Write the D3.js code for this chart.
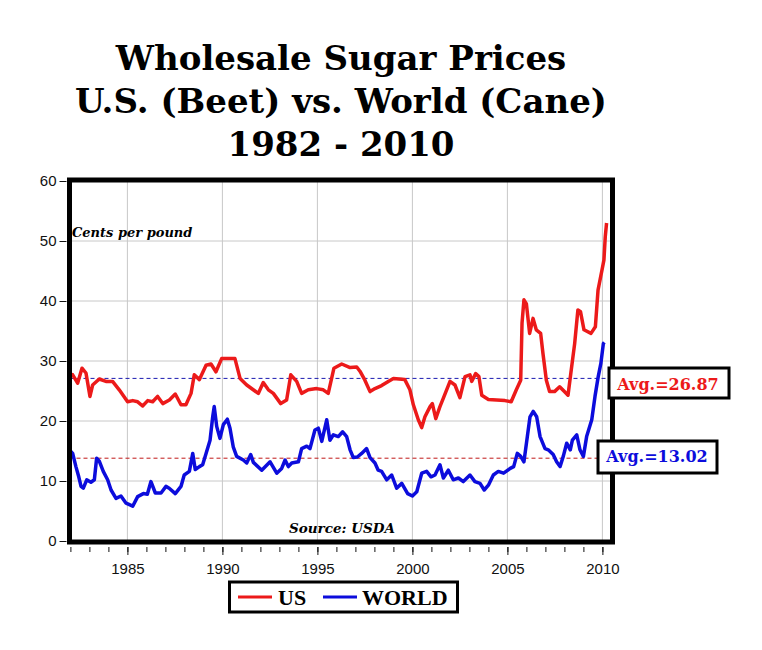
<!DOCTYPE html>
<html><head><meta charset="utf-8">
<script src="https://cdn.jsdelivr.net/npm/d3@7/dist/d3.min.js"></script>
<style>body{margin:0;background:#fff}svg{display:block}</style>
</head><body><svg id="c" width="762" height="650"></svg>
<script>
const titleLines = ["Wholesale Sugar Prices", "U.S. (Beet) vs. World (Cane)", "1982 - 2010"];
const yTicks = [0, 10, 20, 30, 40, 50, 60];
const xLabelYears = [1985, 1990, 1995, 2000, 2005, 2010];
const seriesNames = ["US", "WORLD"];
const avgLabels = ["Avg.=26.87", "Avg.=13.02"];
const avgLineLevels = [27.1, 13.8];

const usYears = [1982.0,1982.12,1982.38,1982.61,1982.82,1983.03,1983.17,1983.52,1983.87,1984.22,1984.57,1985.01,1985.28,1985.54,1985.8,1986.07,1986.33,1986.59,1986.86,1987.21,1987.52,1987.82,1988.08,1988.35,1988.52,1988.79,1989.14,1989.4,1989.66,1989.96,1990.66,1990.93,1991.28,1991.89,1992.15,1992.42,1992.68,1993.07,1993.38,1993.6,1993.91,1994.17,1994.52,1994.96,1995.31,1995.57,1995.87,1996.28,1996.72,1997.07,1997.24,1997.5,1997.77,1998.03,1998.38,1998.73,1999.0,1999.6,1999.87,2000.05,2000.31,2000.49,2000.66,2000.93,2001.05,2001.23,2001.45,2001.63,2001.98,2002.24,2002.5,2002.77,2003.03,2003.12,2003.33,2003.5,2003.65,2004.0,2004.87,2005.2,2005.47,2005.7,2005.77,2005.87,2006.0,2006.17,2006.35,2006.52,2006.75,2006.87,2007.05,2007.22,2007.48,2007.75,2008.0,2008.19,2008.36,2008.54,2008.71,2008.85,2009.03,2009.4,2009.63,2009.77,2009.98,2010.08,2010.15,2010.22];
const usValues = [27.8,27.7,26.3,28.8,28.0,24.1,26.0,27.0,26.6,26.6,25.2,23.2,23.4,23.2,22.5,23.4,23.2,24.1,22.9,23.5,24.5,22.7,22.7,24.6,27.7,26.9,29.3,29.5,28.2,30.4,30.4,27.1,26.0,24.6,26.4,25.2,24.6,22.9,23.5,27.7,26.6,24.6,25.2,25.4,25.2,24.6,28.8,29.5,28.9,29.0,28.3,26.8,24.9,25.4,25.9,26.6,27.1,26.9,25.2,22.7,20.2,18.9,20.7,22.4,22.9,20.4,22.4,23.8,26.6,26.0,23.9,27.4,27.7,26.6,27.9,27.4,24.3,23.6,23.4,23.2,25.2,26.8,36.3,40.2,39.5,34.6,37.1,35.2,34.6,31.3,26.8,24.9,24.9,25.7,24.9,24.3,28.5,32.9,38.5,38.2,35.2,34.6,35.7,41.8,45.2,46.8,50.7,53.0];

const worldYears = [1982.0,1982.12,1982.29,1982.44,1982.56,1982.68,1982.86,1983.08,1983.26,1983.38,1983.52,1983.73,1983.96,1984.14,1984.4,1984.66,1984.93,1985.28,1985.54,1985.84,1986.05,1986.24,1986.47,1986.77,1987.03,1987.2,1987.52,1987.82,1987.99,1988.26,1988.44,1988.57,1988.79,1988.96,1989.14,1989.35,1989.49,1989.57,1989.7,1989.87,1990.05,1990.26,1990.4,1990.57,1990.75,1991.1,1991.28,1991.49,1991.63,1992.07,1992.51,1992.86,1993.12,1993.3,1993.47,1993.65,1994.0,1994.17,1994.44,1994.61,1994.87,1995.05,1995.23,1995.49,1995.66,1995.84,1996.1,1996.33,1996.54,1996.72,1996.89,1997.1,1997.33,1997.59,1997.77,1998.03,1998.2,1998.38,1998.65,1998.91,1999.17,1999.44,1999.75,2000.0,2000.23,2000.49,2000.75,2000.98,2001.19,2001.45,2001.63,2001.89,2002.15,2002.42,2002.68,2003.03,2003.29,2003.56,2003.78,2004.0,2004.26,2004.52,2004.8,2005.15,2005.33,2005.52,2005.7,2005.87,2006.05,2006.19,2006.36,2006.54,2006.72,2006.98,2007.15,2007.41,2007.59,2007.77,2007.94,2008.12,2008.31,2008.42,2008.65,2008.82,2009.0,2009.17,2009.44,2009.61,2009.78,2009.92,2010.05,2010.1];
const worldValues = [15.0,14.6,12.4,10.7,9.1,8.8,10.2,9.8,10.2,13.8,13.3,11.6,10.2,8.5,7.1,7.5,6.3,5.8,7.4,7.9,7.8,9.9,8.0,8.0,9.1,8.8,7.9,9.1,11.0,11.6,14.6,11.9,12.4,12.7,14.6,16.8,20.7,22.4,19.1,17.1,19.4,20.3,18.8,15.7,14.1,13.5,13.0,14.4,13.1,11.8,13.2,11.3,12.1,13.5,12.4,13.0,13.2,15.4,15.8,15.4,18.5,18.8,16.6,20.2,16.8,17.7,17.4,18.2,17.4,15.2,13.9,14.0,14.6,15.4,13.9,13.0,11.8,11.6,10.2,11.0,8.8,9.6,7.9,7.5,8.2,11.3,11.6,10.7,11.0,12.7,10.5,11.8,10.2,10.5,9.9,11.0,9.9,9.6,8.5,9.3,11.0,11.6,11.3,12.1,12.4,14.6,14.1,13.2,17.4,20.7,21.6,20.7,17.4,15.4,15.2,14.4,13.2,12.4,14.1,16.3,15.2,16.8,17.7,15.2,14.1,17.4,20.2,24.1,27.4,29.6,32.9,33.1];

const RED = "#ec1a1a", BLUE = "#0c0cdc";
const svg = d3.select("#c");
svg.append("rect").attr("width", 762).attr("height", 650).attr("fill", "#fff");

const x = d3.scaleLinear().domain([1982, 2010]).range([70.4, 602.4]);
const y = d3.scaleLinear().domain([0, 60]).range([541, 181]);
const L = 69.5, R = 612.5, T = 180, B = 542;

// titles
const titleY = [70, 113, 156];
svg.selectAll("text.title").data(titleLines).enter().append("text")
  .attr("class", "title").attr("x", 341).attr("y", (d, i) => titleY[i])
  .attr("text-anchor", "middle").attr("font-family", "DejaVu Serif")
  .attr("font-weight", "bold").attr("font-size", 34).attr("fill", "#000").text(d => d);

// grid
const g = svg.append("g");
g.selectAll("line.vg").data(xLabelYears).enter().append("line")
  .attr("x1", d => x(d)).attr("x2", d => x(d)).attr("y1", T).attr("y2", B)
  .attr("stroke", "#c8c8c8").attr("stroke-width", 1);
g.selectAll("line.hg").data(yTicks.slice(1, -1)).enter().append("line")
  .attr("x1", L).attr("x2", R).attr("y1", d => y(d)).attr("y2", d => y(d))
  .attr("stroke", "#c8c8c8").attr("stroke-width", 1);

// average dashed lines
g.append("line").attr("x1", L).attr("x2", R).attr("y1", y(avgLineLevels[0])).attr("y2", y(avgLineLevels[0]))
  .attr("stroke", "#1a1ab0").attr("stroke-width", 1).attr("stroke-dasharray", "4,3");
g.append("line").attr("x1", L).attr("x2", R).attr("y1", y(avgLineLevels[1])).attr("y2", y(avgLineLevels[1]))
  .attr("stroke", "#c01818").attr("stroke-width", 1).attr("stroke-dasharray", "4,3");

// series
const line = d3.line().x(d => x(d[0])).y(d => y(d[1]));
svg.append("path").datum(d3.zip(worldYears, worldValues)).attr("d", line)
  .attr("fill", "none").attr("stroke", BLUE).attr("stroke-width", 3.5).attr("stroke-linejoin", "round");
svg.append("path").datum(d3.zip(usYears, usValues)).attr("d", line)
  .attr("fill", "none").attr("stroke", RED).attr("stroke-width", 3.5).attr("stroke-linejoin", "round");

// frame
svg.append("rect").attr("x", L).attr("y", T).attr("width", R - L).attr("height", B - T)
  .attr("fill", "none").attr("stroke", "#000").attr("stroke-width", 5);

// y axis
const ya = svg.append("g").attr("transform", `translate(${L - 3},0)`)
  .call(d3.axisLeft(y).tickValues(yTicks).tickSize(7).tickPadding(3));
ya.select(".domain").remove();
ya.selectAll("text").attr("font-family", "Liberation Sans").attr("font-size", 15).attr("fill", "#111");
ya.selectAll("line").attr("stroke", "#111");

// x axis minor + major
const years = d3.range(1982, 2011);
const xm = svg.append("g").attr("transform", `translate(0,${B + 5})`)
  .call(d3.axisBottom(x).tickValues(years).tickSize(5).tickFormat(""));
xm.select(".domain").remove();
xm.selectAll("line").attr("stroke", "#111");
const xa = svg.append("g").attr("transform", `translate(0,${B + 5})`)
  .call(d3.axisBottom(x).tickValues(xLabelYears).tickSize(8).tickPadding(8).tickFormat(d3.format("d")));
xa.select(".domain").remove();
xa.selectAll("line").attr("stroke", "#111");
xa.selectAll("text").attr("font-family", "Liberation Sans").attr("font-size", 15).attr("fill", "#111");

// annotations
svg.append("text").attr("x", 72).attr("y", 237).attr("font-family", "DejaVu Serif")
  .attr("font-weight", "bold").attr("font-style", "italic").attr("font-size", 13).text("Cents per pound");
svg.append("text").attr("x", 342).attr("y", 533).attr("text-anchor", "middle").attr("font-family", "DejaVu Serif")
  .attr("font-weight", "bold").attr("font-style", "italic").attr("font-size", 13.5).text("Source: USDA");

// avg boxes
const boxes = [
  {x: 609, y: 368, w: 120, h: 30, tx: 668, ty: 390, color: RED},
  {x: 598, y: 441, w: 119, h: 32, tx: 657, ty: 462, color: BLUE}
];
boxes.forEach((b, i) => {
  svg.append("rect").attr("x", b.x).attr("y", b.y).attr("width", b.w).attr("height", b.h)
    .attr("fill", "#fff").attr("stroke", "#000").attr("stroke-width", 3);
  svg.append("text").attr("x", b.tx).attr("y", b.ty).attr("text-anchor", "middle")
    .attr("font-family", "DejaVu Serif").attr("font-weight", "bold").attr("font-size", 16)
    .attr("fill", b.color).text(avgLabels[i]);
});

// legend
const lg = svg.append("g");
lg.append("rect").attr("x", 229.5).attr("y", 582).attr("width", 228).attr("height", 30)
  .attr("fill", "#fff").attr("stroke", "#000").attr("stroke-width", 3);
const legendItems = [
  {x1: 238, x2: 272, tx: 278, color: RED},
  {x1: 323, x2: 357, tx: 362, color: BLUE}
];
legendItems.forEach((it, i) => {
  lg.append("line").attr("x1", it.x1).attr("x2", it.x2).attr("y1", 597).attr("y2", 597)
    .attr("stroke", it.color).attr("stroke-width", 3);
  lg.append("text").attr("x", it.tx).attr("y", 605).attr("font-family", "Liberation Serif")
    .attr("font-weight", "bold").attr("font-size", 22).attr("fill", "#000").text(seriesNames[i]);
});
</script></body></html>
